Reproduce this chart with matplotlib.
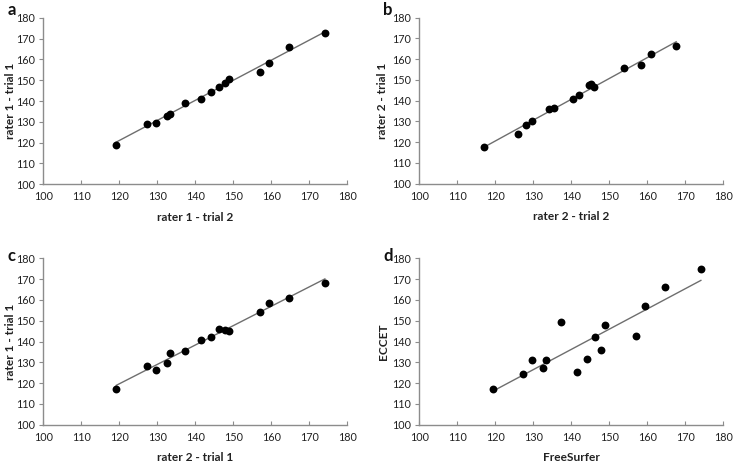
import numpy as np
import matplotlib
matplotlib.use("Agg")
import matplotlib.pyplot as plt

plt.rcParams['font.family'] = ['Lato', 'DejaVu Sans']

# Data
x_a = [119.2, 127.3, 129.6, 132.5, 133.3, 137.2, 141.6, 144.1, 146.3, 147.9, 148.9, 157.0, 159.4, 164.6, 174.1]
y_a = [119.0, 129.1, 129.6, 133.0, 133.8, 139.0, 141.0, 144.5, 146.6, 148.8, 150.6, 153.9, 158.2, 165.8, 172.6]

x_b = [117.0, 126.0, 128.2, 129.6, 134.1, 135.4, 140.4, 142.0, 144.6, 145.2, 146.0, 153.9, 158.3, 160.9, 167.6]
y_b = [117.7, 123.8, 128.1, 130.0, 136.0, 136.5, 140.8, 142.7, 147.4, 148.0, 146.6, 155.7, 157.3, 162.5, 166.3]

x_c = [119.2, 127.3, 129.6, 132.5, 133.3, 137.2, 141.6, 144.1, 146.3, 147.9, 148.9, 157.0, 159.4, 164.6, 174.1]
y_c = [117.3, 128.4, 126.1, 129.8, 134.5, 135.6, 140.7, 142.2, 146.2, 145.5, 145.0, 154.4, 158.5, 161.1, 168.0]

x_d = [119.3, 127.3, 129.6, 132.5, 133.3, 137.2, 141.6, 144.1, 146.3, 147.9, 148.9, 157.0, 159.4, 164.6, 174.1]
y_d = [117.0, 124.2, 131.3, 127.3, 131.1, 149.4, 125.2, 131.8, 142.2, 135.9, 148.1, 142.6, 157.2, 166.2, 175.0]

panel_letters = ['a', 'b', 'c', 'd']
x_labels = ['rater 1 - trial 2', 'rater 2 - trial 2', 'rater 2 - trial 1', 'FreeSurfer']
y_labels = ['rater 1 - trial 1', 'rater 2 - trial 1', 'rater 1 - trial 1', 'ECCET']
ticks = [100, 110, 120, 130, 140, 150, 160, 170, 180]

W, H = 733, 463
fig = plt.figure(figsize=(W / 100, H / 100), dpi=100)

# axes boxes in pixels: left, top, right, bottom
boxes = [(43.3, 17.7, 347.3, 184.3),
         (419.3, 17.7, 723.3, 183.7),
         (43.3, 258.3, 347.3, 424.7),
         (419.3, 258.3, 723.3, 424.7)]
letter_pos = [(12, 10), (388, 10), (12, 256), (388, 256)]
ylabel_x = [10, 383, 10, 383]

data = [(x_a, y_a), (x_b, y_b), (x_c, y_c), (x_d, y_d)]

for i, (box, (xs, ys)) in enumerate(zip(boxes, data)):
    l, t, r, b = box
    ax = fig.add_axes([l / W, 1 - b / H, (r - l) / W, (b - t) / H])
    xs = np.array(xs)
    ys = np.array(ys)
    k, c0 = np.polyfit(xs, ys, 1)
    xl = np.array([xs.min(), xs.max()])
    ax.plot(xl, k * xl + c0, color='#6e6e6e', lw=1.0, zorder=2)
    ax.scatter(xs, ys, s=32, color='black', zorder=3, linewidths=0)
    ax.set_xlim(100, 180)
    ax.set_ylim(100, 180)
    ax.set_xticks(ticks)
    ax.set_yticks(ticks)
    for s in ['top', 'right']:
        ax.spines[s].set_visible(False)
    for s in ['left', 'bottom']:
        ax.spines[s].set_color('#8c8c8c')
        ax.spines[s].set_linewidth(1.0)
    ax.tick_params(axis='y', direction='out', length=3, width=0.8, color='#8c8c8c',
                   labelsize=7.8, pad=3, labelcolor='#222222')
    ax.tick_params(axis='x', direction='in', length=3, width=0.8, color='#8c8c8c',
                   labelsize=7.8, pad=5, labelcolor='#222222')
    ax.set_xlabel(x_labels[i], fontsize=8.6, fontweight='bold', labelpad=7, color='#222222')
    ax.set_ylabel(y_labels[i], fontsize=8.6, fontweight='bold', color='#222222',
                  va='center')
    ax.yaxis.set_label_coords((ylabel_x[i] - l) / (r - l), 0.5)
    lx, ly = letter_pos[i]
    fig.text(lx / W, 1 - ly / H, panel_letters[i], fontsize=12, fontweight='bold',
             ha='center', va='center', color='#111111')

fig.savefig('out.png', dpi=100)
